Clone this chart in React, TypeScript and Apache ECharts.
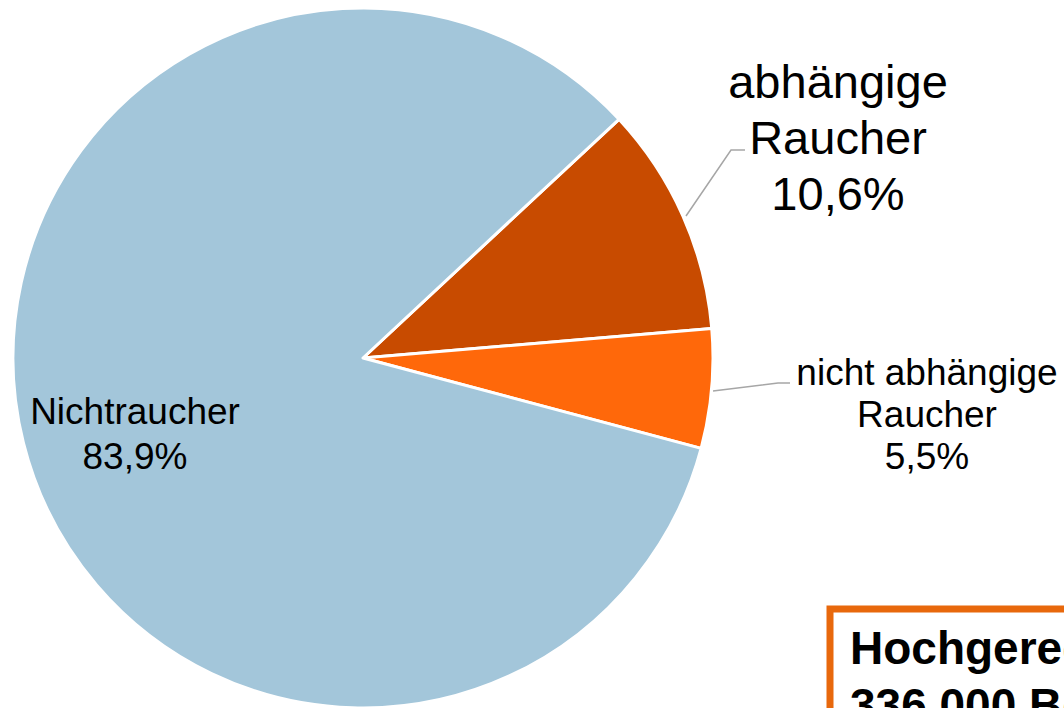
import React, { useEffect, useRef } from "react";
import * as echarts from "echarts";

const categories = ["abhängige\nRaucher", "nicht abhängige\nRaucher", "Nichtraucher"];
const shares = [10.6, 5.5, 83.9];
const shareLabels = ["10,6%", "5,5%", "83,9%"];
const colors = ["#C84B00", "#FF680A", "#A3C6DA"];
const boxLines = ["Hochgerechnet:", "336.000 Betroffene"];

const FONT = "'Liberation Sans', Arial, Helvetica, sans-serif";

export default function App() {
  const ref = useRef<HTMLDivElement>(null);
  useEffect(() => {
    if (!ref.current) return;
    const chart = echarts.init(ref.current, undefined, { renderer: "svg" });
    const labelStyles = [
      { fontSize: 47, lineHeight: 56 },
      { fontSize: 37, lineHeight: 42 },
      { fontSize: 37, lineHeight: 45 },
    ];
    const layouts = [
      { x: 838, y: 137, pts: [[686, 216], [731, 150], [745, 150]] },
      { x: 927, y: 414, pts: [[713, 391], [778, 383], [790, 383]] },
      { x: 135, y: 434, pts: null },
    ];
    chart.setOption({
      animation: false,
      backgroundColor: "#ffffff",
      series: [
        {
          type: "pie",
          center: [363, 358],
          radius: 350,
          startAngle: 43,
          clockwise: true,
          avoidLabelOverlap: false,
          itemStyle: { borderColor: "#ffffff", borderWidth: 3 },
          labelLine: { show: true, lineStyle: { color: "#A6A6A6", width: 1.5 } },
          data: categories.map((c, i) => ({
            name: c,
            value: shares[i],
            itemStyle: { color: colors[i] },
            label: {
              show: true,
              position: i === 2 ? "inside" : "outside",
              formatter: c + "\n" + shareLabels[i],
              color: "#000000",
              fontFamily: FONT,
              align: "center",
              ...labelStyles[i],
            },
            labelLine: { show: i !== 2 },
          })),
          labelLayout: (params: any) => {
            const l = layouts[params.dataIndex];
            const res: any = {
              x: l.x,
              y: l.y,
              align: "center",
              verticalAlign: "middle",
            };
            if (l.pts) res.labelLinePoints = l.pts;
            return res;
          },
        },
      ],
      graphic: [
        {
          type: "rect",
          shape: { x: 830, y: 609, width: 400, height: 300 },
          style: { fill: "#ffffff", stroke: "#E8680C", lineWidth: 7 },
        },
        {
          type: "text",
          x: 850,
          y: 619,
          style: {
            text: boxLines.join("\n"),
            font: `bold 46px ${FONT}`,
            fill: "#000000",
            lineHeight: 57,
            verticalAlign: "top",
            align: "left",
          },
        },
      ],
    });
    return () => chart.dispose();
  }, []);
  return (
    <div
      ref={ref}
      style={{ position: "absolute", left: 0, top: 0, width: 1064, height: 708 }}
    />
  );
}
